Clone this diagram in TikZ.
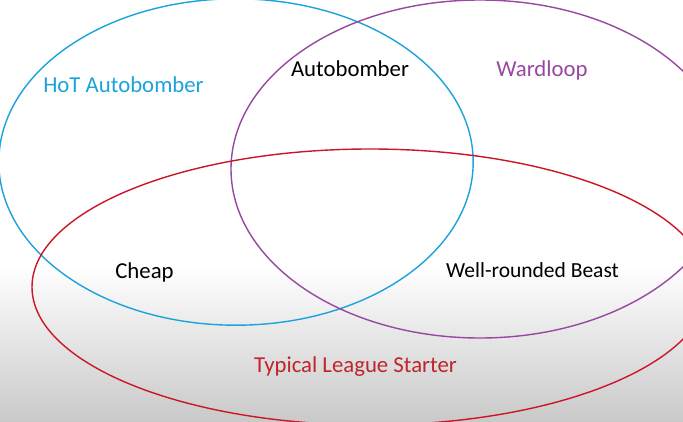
\documentclass[tikz,border=0pt]{standalone}
\usepackage{fontspec}
\setmainfont{Carlito}
\usepackage{tikz}
\usetikzlibrary{calc,positioning}
\definecolor{hotblue}{RGB}{28,163,220}
\definecolor{wardpurple}{RGB}{152,72,160}
\definecolor{leaguered}{RGB}{204,22,40}
\definecolor{leaguetext}{RGB}{192,36,44}
\tikzset{
  venntext/.style={anchor=base,inner sep=0pt,font=\fontsize{16.2}{19}\selectfont}
}

\begin{document}
\begin{tikzpicture}[
    set/.style={line width=1pt},
    lbl/.style={venntext}
  ]
    \useasboundingbox (0,0) rectangle (17.075,10.525);
    \clip (0,0) rectangle (17.075,10.525);
    \fill[white] (0,0) rectangle (17.075,10.525);
    \shade[top color=white,bottom color=black!21] (0,0) rectangle (17.075,3.9);

    \draw[set,hotblue] (5.9,6.475) ellipse [x radius=5.93,y radius=4.08];
    \draw[set,wardpurple] (12.0,6.3) ellipse [x radius=6.225,y radius=4.225];
    \draw[set,leaguered] (9.25,3.35) ellipse [x radius=8.45,y radius=3.45];

    \node (HOT) at (3.0875,8.2) [lbl,text=hotblue] {HoT Autobomber};
    \node (WARD) at (13.55,8.6) [lbl,text=wardpurple] {Wardloop};
    \node (AUTO) at (8.75,8.6) [lbl] {Autobomber};
    \node (CHEAP) at (3.6125,3.575) [lbl] {Cheap};
    \node (BEAST) at (13.3125,3.6) [lbl,font=\fontsize{15.3}{18}\selectfont] {Well-rounded Beast};
    \node (LEAGUE) at (8.8875,1.225) [lbl,text=leaguetext] {Typical League Starter};

  \end{tikzpicture}
\end{document}
